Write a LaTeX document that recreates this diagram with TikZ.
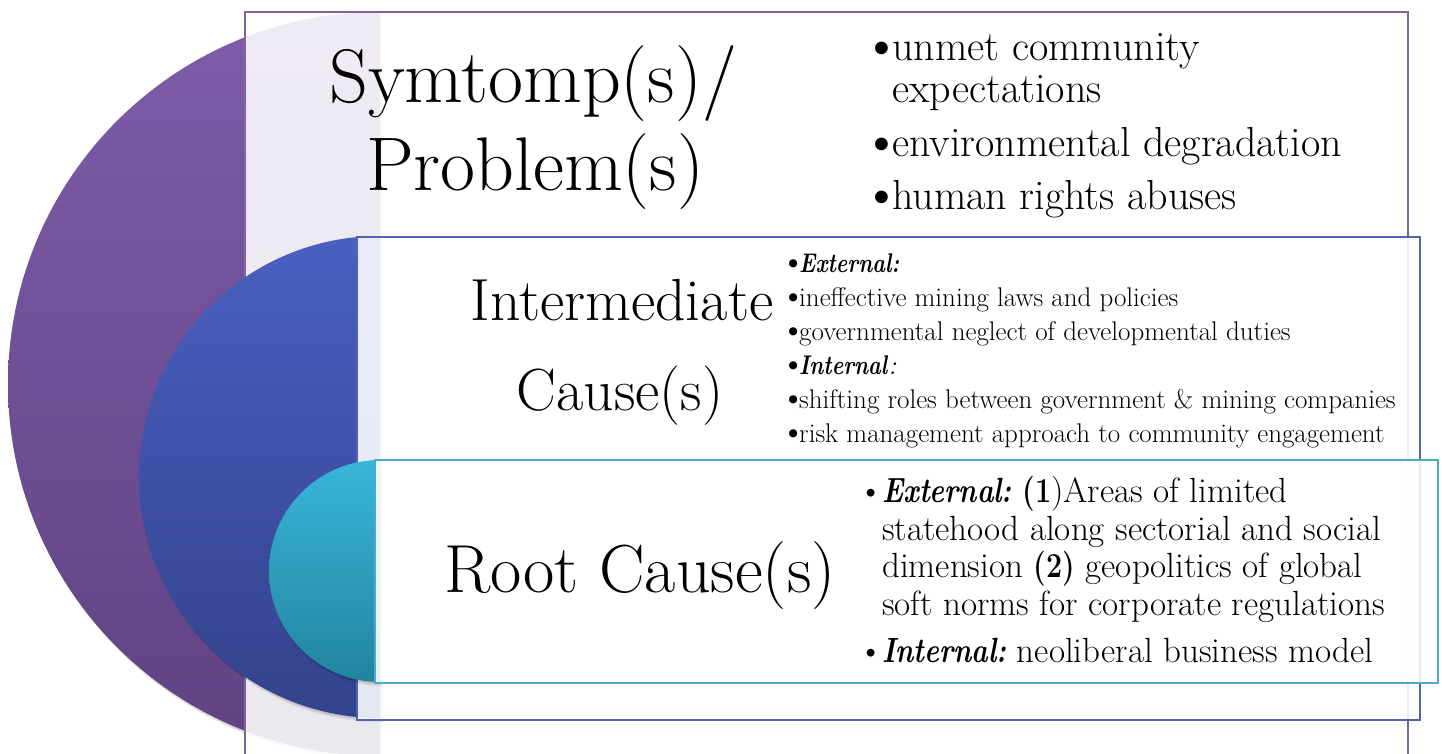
\documentclass[tikz,border=0pt]{standalone}
\usepackage{fontspec}
\usepackage{graphicx}
\newcommand\setfs[1]{\fontsize{#1}{#1}\selectfont}
\newcommand\bitxt[1]{\scalebox{0.8}[1]{\textbf{\textit{#1}}}}
\newcommand\bdtxt[1]{\scalebox{0.82}[1]{\textbf{#1}}}
\newcommand\bigbul{\raisebox{-0.05em}{\scalebox{1.35}{\makebox[0.36em][l]{\textbullet}}}}
\newcommand\smbul{\makebox[0.36em][l]{\textbullet}}
\newcommand\bulA{\llap{\bigbul\hspace{10pt}}}
\newcommand\bulB{\llap{\bigbul\hspace{6pt}}}
\newcommand\bulC{\llap{\smbul\hspace{11pt}}}
\definecolor{purpletop}{HTML}{7E5CA9}
\definecolor{purplebot}{HTML}{5F4382}
\definecolor{bluetop}{HTML}{4A5FC0}
\definecolor{bluebot}{HTML}{33428C}
\definecolor{cyantop}{HTML}{38B6DA}
\definecolor{cyanbot}{HTML}{22849E}
\definecolor{rectpurple}{HTML}{8064A2}
\definecolor{rectblue}{HTML}{4F62B8}
\definecolor{rectcyan}{HTML}{4BACC6}
\begin{document}
\begin{tikzpicture}[x=1pt,y=1pt,
  rectbox/.style={fill=white,fill opacity=0.88,line width=1.6pt},
  shadowlayer/.style={fill=black,fill opacity=0.045},
  biglabel/.style={inner sep=0pt,anchor=base,text=black},
  linetxt/.style={inner sep=0pt,anchor=base west,text=black}]
\useasboundingbox (0,0) rectangle (1442,-754);
\clip (0,0) rectangle (1442,-754);
\fill[white] (0,0) rectangle (1442,-754);

% purple half disk with soft shadow
\foreach \k in {1,...,5}{
  \fill[shadowlayer] ({380+0.6*\k},{-12-0.9*\k}) arc[start angle=90,end angle=270,radius=372] -- cycle;}
\shade[top color=purpletop,bottom color=purplebot] (380,-12) arc[start angle=90,end angle=270,radius=372] -- cycle;
\draw[rectbox,draw=rectpurple] (245,-12) rectangle (1408,-762);

% blue half disk
\foreach \k in {1,...,5}{
  \fill[shadowlayer] ({380+0.6*\k},{-236-0.9*\k}) arc[start angle=90,end angle=270,radius=241] -- cycle;}
\shade[top color=bluetop,bottom color=bluebot] (380,-236) arc[start angle=90,end angle=270,radius=241] -- cycle;
\draw[rectbox,draw=rectblue] (357,-237) rectangle (1420,-720);

% cyan half disk
\foreach \k in {1,...,5}{
  \fill[shadowlayer] ({380+0.6*\k},{-460-0.9*\k}) arc[start angle=90,end angle=270,radius=111] -- cycle;}
\shade[top color=cyantop,bottom color=cyanbot] (380,-460) arc[start angle=90,end angle=270,radius=111] -- cycle;
\draw[rectbox,draw=rectcyan] (375,-460) rectangle (1438,-683);

% big labels
\node[biglabel,font=\setfs{76}] (symptom) at (533,-103) {Symtomp(s)/};
\node[biglabel,font=\setfs{76}] (problem) at (535,-190) {Problem(s)};
\node[biglabel,font=\setfs{59.5}] (interm) at (622,-320) {Intermediate};
\node[biglabel,font=\setfs{59.5}] (cause) at (620,-410) {Cause(s)};
\node[biglabel,font=\setfs{68}] (root) at (640,-592) {Root Cause(s)};

% symptom list
\begin{scope}[every node/.append style={font=\setfs{42}}]
\node[linetxt] (s1) at (892,-61) {\bulA unmet community};
\node[linetxt] (s2) at (892,-103) {expectations};
\node[linetxt] (s3) at (892,-157) {\bulA environmental degradation};
\node[linetxt] (s4) at (892,-210) {\bulA human rights abuses};
\end{scope}

% intermediate list
\begin{scope}[every node/.append style={font=\setfs{27}}]
\node[linetxt] (i1) at (799,-272) {\bulB\bitxt{External:}};
\node[linetxt] (i2) at (799,-306) {\bulB ineffective mining laws and policies};
\node[linetxt] (i3) at (799,-340) {\bulB governmental neglect of developmental duties};
\node[linetxt] (i4) at (799,-374) {\bulB\bitxt{Internal}\textit{:}};
\node[linetxt] (i5) at (799,-408) {\bulB shifting roles between government \& mining companies};
\node[linetxt] (i6) at (799,-442) {\bulB risk management approach to community engagement};
\end{scope}

% root list
\begin{scope}[every node/.append style={font=\setfs{35}}]
\node[linetxt] (r1) at (882,-502) {\bulC\bitxt{External:} \bdtxt{(1}){}Areas of limited};
\node[linetxt] (r2) at (882,-540) {statehood along sectorial and social};
\node[linetxt] (r3) at (882,-577) {dimension \bdtxt{(2)} geopolitics of global};
\node[linetxt] (r4) at (882,-615) {soft norms for corporate regulations};
\node[linetxt] (r5) at (882,-662) {\bulC\bitxt{Internal:} neoliberal business model};
\end{scope}
\end{tikzpicture}
\end{document}
